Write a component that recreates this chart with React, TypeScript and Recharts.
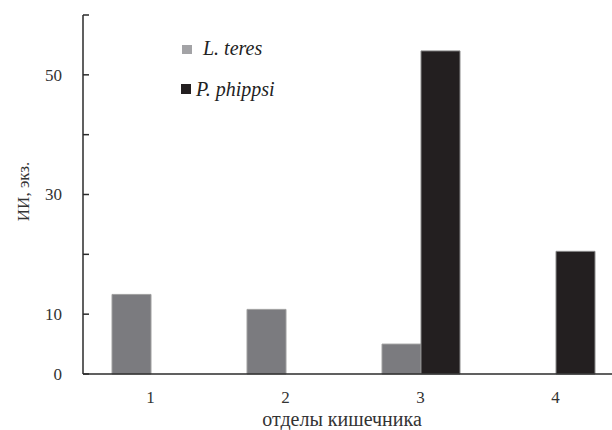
import React from 'react';
import { BarChart, Bar, XAxis, YAxis, Label } from 'recharts';

const categories = ['1', '2', '3', '4'];
const lTeres = [13.3, 10.8, 5.0, 0];
const pPhippsi = [0, 0, 54.0, 20.5];
const yTicks = [0, 10, 20, 30, 40, 50, 60];
const yLabelTicks = [0, 10, 30, 50];

const data = categories.map((c, i) => ({ cat: c, lt: lTeres[i], pp: pPhippsi[i] }));

const FONT = 'Liberation Serif, serif';
const AXIS = '#2b2b2b';

const YTick = (props: any) => {
  const { x, y, payload } = props;
  const v = payload.value;
  const ax = x + 21;
  return (
    <g>
      <line x1={ax} x2={ax + 6} y1={y} y2={y} stroke={AXIS} strokeWidth={1.5} />
      {yLabelTicks.includes(v) && (
        <text x={x} y={y} textAnchor="end" dy="0.35em" style={{ fontFamily: FONT }} fontSize={17} fill="#333">
          {v}
        </text>
      )}
    </g>
  );
};

const XTick = (props: any) => {
  const { x, y, payload } = props;
  return (
    <text x={x} y={y} textAnchor="middle" dy="0.35em" style={{ fontFamily: FONT }} fontSize={17} fill="#333">
      {payload.value}
    </text>
  );
};

export default function App() {
  return (
    <div style={{ position: 'absolute', left: 0, top: 0, width: 612, height: 430, overflow: 'hidden', background: '#fff' }}>
      <BarChart
        width={640}
        height={430}
        data={data}
        margin={{ top: 15, right: 17, bottom: 0, left: 23 }}
        barGap={0}
        barSize={39}
      >
        <XAxis
          dataKey="cat"
          tickLine={false}
          axisLine={{ stroke: AXIS, strokeWidth: 1.5 }}
          tickSize={0}
          tickMargin={23}
          tick={<XTick />}
          height={56}
          interval={0}
        >
          <Label
            value="отделы кишечника"
            position="insideBottom"
            offset={4}
            dx={-11}
            style={{ fontFamily: FONT, fontSize: 20, fill: '#333' }}
          />
        </XAxis>
        <YAxis
          width={60}
          domain={[0, 60]}
          ticks={yTicks}
          interval={0}
          tickLine={false}
          tickSize={0}
          tickMargin={21}
          tick={<YTick />}
          axisLine={{ stroke: AXIS, strokeWidth: 1.5 }}
        >
          <Label
            value="ИИ, экз."
            angle={-90}
            position="insideLeft"
            dx={-5}
            dy={-3}
            style={{ fontFamily: FONT, fontSize: 17, fill: '#333', textAnchor: 'middle' }}
          />
        </YAxis>
        <Bar dataKey="lt" fill="#7b7b7f" stroke="#a0a0a0" strokeWidth={1} isAnimationActive={false} />
        <Bar dataKey="pp" fill="#231f20" stroke="#8a8a8a" strokeWidth={1} isAnimationActive={false} />
      </BarChart>
      <div style={{ position: 'absolute', left: 181, top: 44, fontFamily: FONT, fontSize: 20, fontStyle: 'italic', color: '#222' }}>
        <div style={{ position: 'absolute', left: 1, top: 1, width: 10, height: 9, background: '#a3a3a6' }} />
        <div style={{ position: 'absolute', left: 22, top: -7, whiteSpace: 'nowrap', lineHeight: '22px' }}>L. teres</div>
        <div style={{ position: 'absolute', left: 0, top: 40, width: 10, height: 10, background: '#231f20' }} />
        <div style={{ position: 'absolute', left: 15, top: 34, whiteSpace: 'nowrap', lineHeight: '22px' }}>P. phippsi</div>
      </div>
    </div>
  );
}
